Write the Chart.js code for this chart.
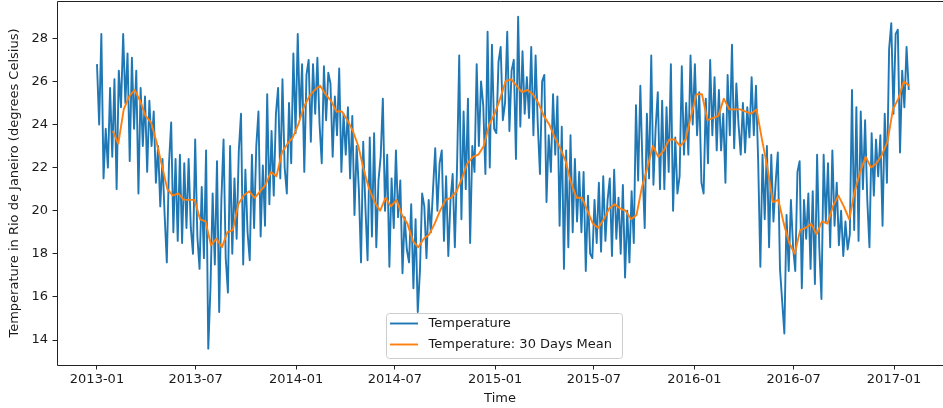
<!DOCTYPE html>
<html>
<head>
<meta charset="utf-8">
<script src="https://cdn.jsdelivr.net/npm/chart.js@4.4.1/dist/chart.umd.min.js"></script>
<style>
  html, body { margin: 0; padding: 0; background: #fff; }
  canvas { display: block; }
</style>
</head>
<body>
<canvas id="chart" width="943" height="408"></canvas>
<script>
// daily readings, sampled every 4 days from 2013-01-01
const seriesStart = '2013-01-01';
const temperatureStepDays = 4;
const temperature = [
  26.8, 24.0, 28.2, 21.5, 23.8, 22.0, 25.7, 22.5, 26.1, 21.0,
  26.5, 24.8, 28.2, 25.0, 27.3, 22.3, 27.1, 23.8, 26.5, 20.8,
  25.7, 23.0, 25.3, 21.8, 25.1, 23.0, 24.6, 21.3, 23.0, 20.2,
  22.4, 19.8, 17.6, 22.2, 24.1, 19.0, 22.4, 18.6, 22.6, 18.5,
  22.2, 19.2, 22.4, 19.2, 18.0, 23.3, 18.8, 17.3, 21.1, 17.8,
  22.8, 13.6, 16.4, 20.8, 17.5, 22.3, 15.3, 20.5, 23.3, 17.8,
  16.2, 23.0, 18.0, 21.5, 18.7, 22.8, 24.5, 17.5, 21.9, 19.0,
  17.7, 22.6, 19.2, 23.0, 24.6, 18.8, 22.1, 19.3, 25.4, 20.3,
  23.7, 20.7, 24.5, 25.7, 21.5, 26.1, 22.0, 20.8, 25.0, 22.2,
  27.3, 23.6, 28.2, 24.3, 26.8, 21.8, 26.3, 27.0, 23.2, 26.8,
  24.5, 27.1, 24.0, 22.2, 26.7, 24.2, 26.4, 25.9, 22.5, 25.3,
  23.5, 26.6, 21.8, 24.5, 22.6, 24.8, 21.5, 24.4, 19.8, 23.0,
  21.0, 17.6, 23.2, 20.2, 17.7, 23.4, 18.8, 23.6, 18.3, 21.4,
  22.5, 25.2, 20.0, 22.6, 17.4, 21.5, 19.2, 22.8, 19.7, 21.4,
  17.1, 19.7, 18.2, 17.6, 20.3, 16.4, 19.6, 15.3, 17.2, 20.8,
  20.2, 17.8, 20.5, 19.0, 21.0, 22.9, 20.0, 22.2, 22.8, 18.6,
  21.6, 17.9, 20.5, 21.7, 18.3, 22.0, 27.2, 19.6, 24.6, 21.0,
  25.2, 18.5, 23.0, 21.8, 26.8, 23.0, 26.0, 24.9, 21.7, 28.3,
  22.0, 27.7, 23.8, 23.6, 26.9, 27.6, 24.2, 25.0, 28.3, 23.7,
  26.5, 27.0, 22.4, 29.0, 23.9, 27.4, 24.5, 26.2, 24.3, 27.6,
  23.5, 27.2, 24.0, 21.7, 26.0, 26.3, 20.4, 23.5, 21.8, 25.4,
  22.6, 25.3, 19.3, 23.9, 17.3, 22.8, 18.3, 23.5, 19.0, 22.4,
  19.5, 21.8, 19.0, 21.8, 17.2, 20.7, 18.0, 17.8, 20.5, 18.5,
  21.3, 18.1, 21.6, 18.6, 20.5, 21.5, 17.9, 21.9, 18.7, 20.6,
  18.0, 21.2, 16.9, 20.0, 17.6, 20.9, 18.5, 24.9, 21.4, 25.8,
  22.0, 19.2, 24.5, 21.5, 27.2, 21.2, 23.8, 25.5, 21.0, 25.1,
  21.0, 24.8, 21.8, 26.8, 20.0, 23.4, 20.8, 21.6, 26.7, 22.6,
  25.0, 22.6, 27.2, 24.0, 26.8, 23.5, 25.5, 21.3, 20.8, 25.2,
  22.2, 27.0, 23.5, 26.2, 22.8, 25.6, 22.8, 24.5, 21.3, 26.3,
  23.5, 27.7, 22.9, 25.9, 24.0, 22.6, 25.0, 22.7, 24.8, 23.4,
  26.2, 23.5, 25.8, 22.3, 17.4, 22.6, 19.6, 23.0, 18.3, 22.6,
  19.5, 21.3, 22.7, 17.3, 15.8, 14.3, 19.8, 17.2, 20.5, 18.3,
  17.2, 21.8, 22.3, 16.4, 20.5, 18.7, 20.8, 17.3, 20.9, 16.6,
  22.6, 18.3, 15.9, 22.6, 19.5, 22.2, 18.3, 22.8, 19.3, 21.3,
  18.4, 20.0, 17.9, 19.5, 18.2, 18.9, 25.6, 19.1, 24.8, 18.6,
  24.6, 21.0, 24.2, 20.5, 18.3, 23.6, 20.7, 23.3, 21.6, 23.5,
  19.3, 24.5, 21.3, 27.5, 28.7, 24.5, 28.2, 28.4, 22.7, 26.5,
  24.8, 27.6, 25.6
];

// 30 day rolling mean, sampled every 10 days from day 29
const meanStartDay = 29;
const meanStepDays = 10;
const temperatureMean = [
  23.7, 23.1, 24.7, 25.3, 25.6, 25.1, 24.4, 24.1, 23.2, 22.1,
  21.0, 20.7, 20.8, 20.5, 20.5, 20.5, 19.6, 19.5, 18.4, 18.7,
  18.3, 19.0, 19.1, 20.3, 20.7, 20.9, 20.6, 20.9, 21.2, 21.8,
  21.6, 22.7, 23.1, 23.4, 24.0, 24.8, 25.3, 25.6, 25.8, 25.4,
  25.1, 24.6, 24.6, 24.2, 23.7, 23.0, 21.9, 21.0, 20.4, 20.0,
  20.6, 20.2, 20.5, 19.8, 19.4, 18.6, 18.3, 18.7, 18.9, 19.4,
  20.0, 20.5, 20.6, 20.9, 21.5, 22.2, 22.5, 22.6, 23.0, 24.0,
  24.5, 25.2, 26.0, 26.1, 25.8, 25.5, 25.6, 25.4, 25.0, 24.4,
  24.0, 23.4, 22.9, 22.3, 21.3, 20.6, 20.6, 20.0, 19.4, 19.2,
  19.6, 20.1, 20.3, 20.1, 20.0, 19.6, 19.8, 21.1, 22.0, 23.0,
  22.5, 22.8, 23.3, 23.3, 23.0, 23.3, 24.4, 25.4, 25.4, 24.2,
  24.3, 24.4, 25.2, 24.7, 24.7, 24.7, 24.6, 24.5, 24.7, 23.3,
  22.0, 20.4, 20.5, 19.4, 18.5, 18.0, 19.1, 19.2, 19.4, 18.9,
  19.5, 19.4, 20.2, 20.7, 20.2, 19.6, 20.9, 21.8, 22.5, 22.0,
  22.2, 22.6, 23.2, 24.7, 25.2, 26.0, 25.8
];

const xTickLabels = ['2013-01', '2013-07', '2014-01', '2014-07', '2015-01',
                     '2015-07', '2016-01', '2016-07', '2017-01'];
const yTickValues = [14, 16, 18, 20, 22, 24, 26, 28];

const DAY = 86400000;
const t0 = Date.parse(seriesStart + 'T00:00:00Z');
const dayOf = (month) => (Date.parse(month + '-01T00:00:00Z') - t0) / DAY;

const tempPoints = temperature.map((v, i) => ({ x: i * temperatureStepDays, y: v }));
const meanPoints = temperatureMean.map((v, i) => ({ x: meanStartDay + i * meanStepDays, y: v }));

const FONT = '"DejaVu Sans", sans-serif';
const INK = '#1a1a1a';

// top / left / bottom spines, right one falls outside the picture
const frame = {
  id: 'frame',
  afterDraw(chart) {
    const { ctx, chartArea: a } = chart;
    ctx.save();
    ctx.strokeStyle = '#222';
    ctx.lineWidth = 1;
    ctx.beginPath();
    ctx.moveTo(a.right, a.top + 0.5);
    ctx.lineTo(a.left + 0.5, a.top + 0.5);
    ctx.lineTo(a.left + 0.5, a.bottom + 0.5);
    ctx.lineTo(a.right, a.bottom + 0.5);
    ctx.stroke();
    ctx.restore();
  }
};

const boxLegend = {
  id: 'boxLegend',
  afterDraw(chart) {
    const { ctx, chartArea: a } = chart;
    const w = 236, h = 45;
    const x = Math.round((a.left + a.right) / 2 - w / 2 + 4);
    const y = Math.round(a.bottom - 7 - h);
    ctx.save();
    ctx.beginPath();
    ctx.roundRect(x + 0.5, y + 0.5, w, h, 3);
    ctx.fillStyle = 'rgba(255,255,255,0.8)';
    ctx.fill();
    ctx.strokeStyle = '#cccccc';
    ctx.lineWidth = 1;
    ctx.stroke();
    ctx.font = '13px ' + FONT;
    ctx.textBaseline = 'middle';
    ctx.textAlign = 'left';
    chart.data.datasets.forEach((ds, i) => {
      const ly = y + 10.5 + i * 21;
      ctx.strokeStyle = ds.borderColor;
      ctx.lineWidth = ds.borderWidth;
      ctx.beginPath();
      ctx.moveTo(x + 4, ly);
      ctx.lineTo(x + 32, ly);
      ctx.stroke();
      ctx.fillStyle = INK;
      ctx.fillText(ds.label, x + 42.5, ly);
    });
    ctx.restore();
  }
};

new Chart(document.getElementById('chart'), {
  type: 'line',
  data: {
    datasets: [
      {
        label: 'Temperature',
        data: tempPoints,
        borderColor: '#1f77b4',
        borderWidth: 1.9,
        borderJoinStyle: 'round',
        pointRadius: 0,
        tension: 0,
        order: 2
      },
      {
        label: 'Temperature: 30 Days Mean',
        data: meanPoints,
        borderColor: '#ff7f0e',
        borderWidth: 1.9,
        borderJoinStyle: 'round',
        pointRadius: 0,
        tension: 0,
        order: 1
      }
    ]
  },
  options: {
    responsive: false,
    animation: false,
    devicePixelRatio: 1,
    parsing: false,
    layout: { padding: { top: 1, right: 0, bottom: 0, left: 0 } },
    plugins: { legend: { display: false }, tooltip: { enabled: false } },
    scales: {
      x: {
        type: 'linear',
        min: -73.3,
        max: 1550.8,
        afterFit(scale) {
          scale.height = 43;
          scale.paddingLeft = 0;
          scale.paddingRight = 0;
        },
        afterBuildTicks(scale) { scale.ticks = xTickLabels.map(l => ({ value: dayOf(l) })); },
        ticks: {
          autoSkip: false,
          maxRotation: 0,
          padding: 2,
          color: INK,
          font: { family: FONT, size: 13 },
          callback: (v, i) => xTickLabels[i]
        },
        grid: { drawOnChartArea: false, tickLength: 4.5, color: '#222' },
        border: { display: false },
        title: {
          display: true,
          text: 'Time',
          color: INK,
          font: { family: FONT, size: 13 },
          padding: { top: 0, bottom: 1.7 }
        }
      },
      y: {
        min: 12.84,
        max: 29.73,
        afterFit(scale) {
          scale.width = 57;
          scale.paddingTop = 0;
          scale.paddingBottom = 0;
        },
        afterBuildTicks(scale) { scale.ticks = yTickValues.map(v => ({ value: v })); },
        ticks: {
          padding: 4.5,
          color: INK,
          font: { family: FONT, size: 13 },
          callback: (v) => v
        },
        grid: { drawOnChartArea: false, tickLength: 4.5, color: '#222' },
        border: { display: false },
        title: {
          display: true,
          text: 'Temperature in Rio de Janeiro (degrees Celsius)',
          color: INK,
          font: { family: FONT, size: 13 },
          padding: { top: 7.2, bottom: 0 }
        }
      }
    }
  },
  plugins: [frame, boxLegend]
});
</script>
</body>
</html>
